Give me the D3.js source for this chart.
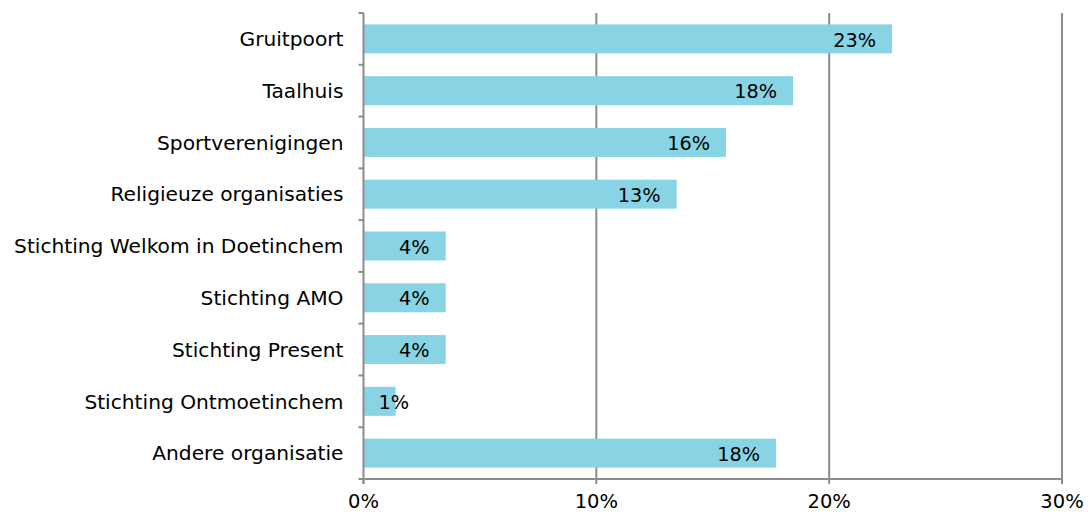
<!DOCTYPE html>
<html>
<head>
<meta charset="utf-8">
<script src="https://cdn.jsdelivr.net/npm/d3@7"></script>
<style>
  body { margin: 0; background: #fff; }
  text { font-family: "DejaVu Sans", Verdana, sans-serif; fill: #000; }
</style>
</head>
<body>
<svg id="chart" width="1088" height="514"></svg>
<script>
var categories = ['Gruitpoort', 'Taalhuis', 'Sportverenigingen', 'Religieuze organisaties',
    'Stichting Welkom in Doetinchem', 'Stichting AMO', 'Stichting Present',
    'Stichting Ontmoetinchem', 'Andere organisatie'];
var values = [22.7, 18.45, 15.57, 13.45, 3.53, 3.53, 3.53, 1.38, 17.72];
var xTicks = [0, 10, 20, 30];

var margin = {top: 13, left: 363.5, right: 26, bottom: 35},
    width = 1088 - margin.left - margin.right,
    height = 514 - margin.top - margin.bottom;

var svg = d3.select('#chart');
var g = svg.append('g').attr('transform', 'translate(' + margin.left + ',' + margin.top + ')');

var x = d3.scaleLinear().domain([0, 30]).range([0, width]);
var y = d3.scaleBand().domain(categories).range([0, height])
    .paddingInner(0.44).paddingOuter(0.22);

var axisColor = '#8c8c8c';

// gridlines
g.selectAll('.grid')
    .data(xTicks.filter(function (t) { return t > 0; }))
    .enter().append('line')
    .attr('x1', function (d) { return x(d); })
    .attr('x2', function (d) { return x(d); })
    .attr('y1', 0).attr('y2', height)
    .style('stroke', axisColor).style('stroke-width', 2);

// bars
g.selectAll('.bar')
    .data(values)
    .enter().append('rect')
    .attr('x', x(0))
    .attr('y', function (d, i) { return y(categories[i]); })
    .attr('width', function (d) { return x(d) - x(0); })
    .attr('height', y.bandwidth())
    .style('fill', '#89d4e4');

// x axis line + ticks
g.append('line')
    .attr('x1', 0).attr('x2', width)
    .attr('y1', height).attr('y2', height)
    .style('stroke', axisColor).style('stroke-width', 2);
g.selectAll('.xtick')
    .data(xTicks)
    .enter().append('line')
    .attr('x1', function (d) { return x(d); })
    .attr('x2', function (d) { return x(d); })
    .attr('y1', height).attr('y2', height + 5)
    .style('stroke', axisColor).style('stroke-width', 2);
g.selectAll('.xlabel')
    .data(xTicks)
    .enter().append('text')
    .attr('x', function (d) { return x(d); })
    .attr('y', height + 29)
    .attr('text-anchor', 'middle')
    .style('font-size', '19.5px')
    .text(function (d) { return d + '%'; });

// y axis line + ticks at band boundaries
g.append('line')
    .attr('x1', 0).attr('x2', 0)
    .attr('y1', 0).attr('y2', height + 5)
    .style('stroke', axisColor).style('stroke-width', 2);
var bounds = categories.map(function (c) { return y(c) - y.step() * y.paddingInner() / 2; });
bounds.push(height);
g.selectAll('.ytick')
    .data(bounds)
    .enter().append('line')
    .attr('x1', -5).attr('x2', 0)
    .attr('y1', function (d) { return d; })
    .attr('y2', function (d) { return d; })
    .style('stroke', axisColor).style('stroke-width', 2);
g.selectAll('.ylabel')
    .data(categories)
    .enter().append('text')
    .attr('x', -20)
    .attr('y', function (d) { return y(d) + y.bandwidth() / 2; })
    .attr('dy', '0.36em')
    .attr('text-anchor', 'end')
    .style('font-size', '20.2px')
    .text(function (d) { return d; });

// value labels
g.selectAll('.vlabel')
    .data(values)
    .enter().append('text')
    .attr('y', function (d, i) { return y(categories[i]) + y.bandwidth() / 2; })
    .attr('dy', '0.4em')
    .attr('text-anchor', 'end')
    .style('font-size', '19.3px')
    .text(function (d) { return Math.round(d) + '%'; })
    .attr('x', function (d) {
        var w = this.getComputedTextLength();
        return Math.max(x(d) - 16, x(0) + 15 + w);
    });
</script>
</body>
</html>
